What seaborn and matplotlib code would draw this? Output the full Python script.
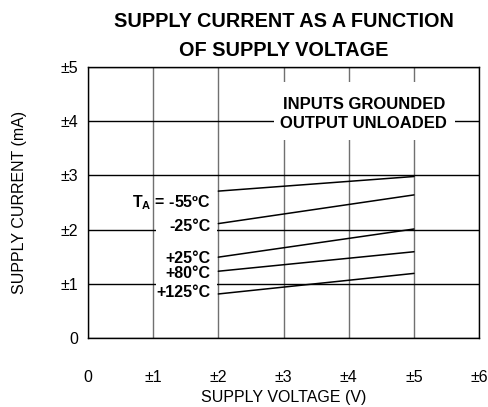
import seaborn as sns
import numpy as np
import pandas as pd
import matplotlib.pyplot as plt
from matplotlib.patches import Rectangle

sns.set_style("white")
plt.rcParams['font.family'] = ['Liberation Sans', 'DejaVu Sans']
plt.rcParams['mathtext.fontset'] = 'custom'
plt.rcParams['mathtext.bf'] = 'Liberation Sans:bold'
plt.rcParams['mathtext.rm'] = 'Liberation Sans'
for k in ['text.color', 'axes.labelcolor', 'xtick.color', 'ytick.color']:
    plt.rcParams[k] = 'black'

# data
voltage = [2, 5]
temp_labels = ["-55", "-25", "+25", "+80", "+125"]
current_start = [2.71, 2.11, 1.49, 1.23, 0.81]
current_end = [2.98, 2.64, 2.01, 1.59, 1.19]
label_text = [r"$\mathbf{T_A}$ = -55ºC", "-25°C", "+25°C", "+80°C", "+125°C"]
label_y = [2.50, 2.05, 1.46, 1.18, 0.83]

xtick_labels = ["0", "±1", "±2", "±3", "±4", "±5", "±6"]
ytick_labels = ["0", "±1", "±2", "±3", "±4", "±5"]

rows = []
for t, s, e in zip(temp_labels, current_start, current_end):
    rows.append({"temp": t, "V": voltage[0], "I": s})
    rows.append({"temp": t, "V": voltage[1], "I": e})
df = pd.DataFrame(rows)

fig = plt.figure(figsize=(4.88, 4.07), dpi=100)
ax = fig.add_axes([0.180, 0.170, 0.802, 0.665])

ax = sns.lineplot(data=df, x="V", y="I", units="temp", estimator=None,
                  color="black", lw=1.1, ax=ax, zorder=5)

ax.set_xlim(0, 6)
ax.set_ylim(0, 5)
ax.set_xticks(range(7))
ax.set_yticks(range(6))
ax.set_xticklabels(xtick_labels)
ax.set_yticklabels(ytick_labels)
ax.tick_params(axis='x', length=0, pad=23, labelsize=11.5)
ax.tick_params(axis='y', length=0, pad=7, labelsize=11.5)
ax.xaxis.grid(True, color='#707070', lw=1)
ax.yaxis.grid(True, color='black', lw=1)
ax.set_axisbelow(True)
for sp in ax.spines.values():
    sp.set_color('black')
    sp.set_linewidth(1)

# white boxes behind the labels that break the grid
ax.add_patch(Rectangle((1.05, 0.62), 0.93, 2.16, facecolor='white',
                       edgecolor='none', zorder=2))
ax.add_patch(Rectangle((2.85, 3.65), 2.78, 1.07, facecolor='white',
                       edgecolor='none', zorder=2))

for txt, y in zip(label_text, label_y):
    ax.text(1.88, y, txt, ha='right', va='center', fontsize=11.5,
            fontweight='bold', zorder=6)

ax.text(4.23, 4.14, "INPUTS GROUNDED\nOUTPUT UNLOADED", ha='center',
        va='center', fontsize=12, fontweight='bold', linespacing=1.35, zorder=6)

ax.set_xlabel("SUPPLY VOLTAGE (V)", fontsize=11.5, labelpad=4)
ax.set_ylabel("SUPPLY CURRENT (mA)", fontsize=11.5, labelpad=24)
ax.set_title("SUPPLY CURRENT AS A FUNCTION\nOF SUPPLY VOLTAGE", fontsize=14.3,
             fontweight='bold', pad=8, linespacing=1.65)

fig.savefig("out.png", dpi=100)
